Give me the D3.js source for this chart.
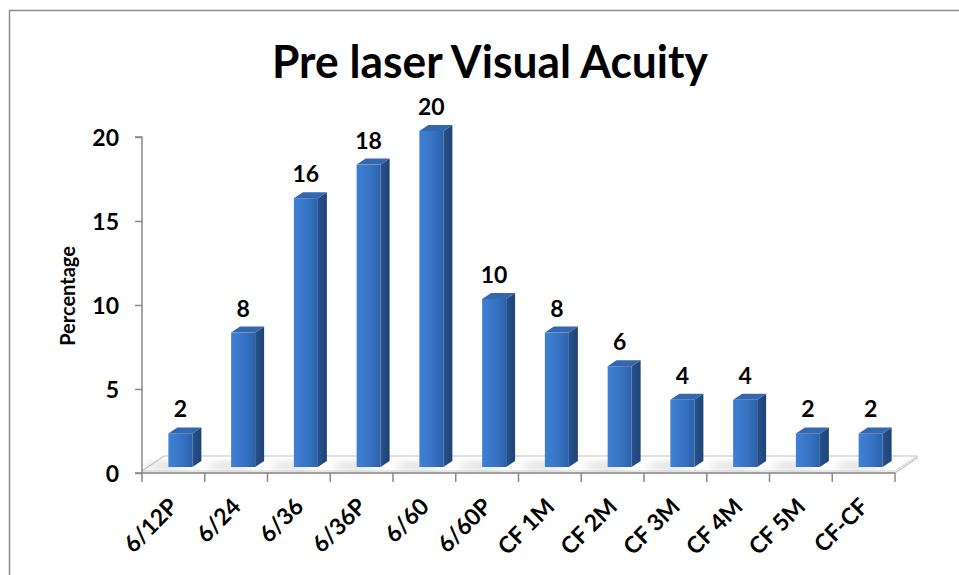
<!DOCTYPE html>
<html>
<head>
<meta charset="utf-8">
<script src="https://cdn.jsdelivr.net/npm/d3@7"></script>
<style>
  html, body { margin: 0; padding: 0; background: #fff; }
  svg { display: block; font-family: Lato, "Open Sans", sans-serif; }
</style>
</head>
<body>
<svg id="chart" width="959" height="575"></svg>
<script>
// Visual acuity categories and percentage of eyes before laser treatment
const categories = ["6/12P", "6/24", "6/36", "6/36P", "6/60", "6/60P",
                    "CF 1M", "CF 2M", "CF 3M", "CF 4M", "CF 5M", "CF-CF"];
const percentages = [2, 8, 16, 18, 20, 10, 8, 6, 4, 4, 2, 2];
const yTicks = [0, 5, 10, 15, 20];
const titleText = "Pre laser Visual Acuity";
const yTitle = "Percentage";

const svg = d3.select("#chart");
const W = 959, H = 575;

// Plot area (front plane of the 3-D floor)
const plotL = 142, plotR = 895, plotB = 473, plotT = 137;
// Floor depth offset and bar depth geometry
const floorDx = 22, floorDy = -15;
const barShiftX = 7, barShiftY = -6;   // bars sit in the middle of the floor depth
const barDx = 9, barDy = -6;           // bar's own depth
const barW = 24;
const labelSize = 23;

const x = d3.scaleBand().domain(categories).range([plotL, plotR]).paddingInner(0).paddingOuter(0);
const y = d3.scaleLinear().domain([0, 20]).range([plotB, plotT]);

// Outer chart frame
svg.append("rect")
  .attr("x", 9.5).attr("y", 10.5)
  .attr("width", W).attr("height", H)
  .attr("fill", "none").attr("stroke", "#8c8c8c").attr("stroke-width", 1.5);

const defs = svg.append("defs");
const gFront = defs.append("linearGradient").attr("id", "front").attr("x1", 0).attr("x2", 1).attr("y1", 0).attr("y2", 0);
gFront.append("stop").attr("offset", 0).attr("stop-color", "#3f80d4");
gFront.append("stop").attr("offset", 0.6).attr("stop-color", "#3672c2");
gFront.append("stop").attr("offset", 1).attr("stop-color", "#2d61a9");
const gSide = defs.append("linearGradient").attr("id", "side").attr("x1", 0).attr("x2", 1).attr("y1", 0).attr("y2", 0);
gSide.append("stop").attr("offset", 0).attr("stop-color", "#27518d");
gSide.append("stop").attr("offset", 1).attr("stop-color", "#1f4374");
const shadowBlur = defs.append("filter").attr("id", "soft").attr("x", "-50%").attr("y", "-50%").attr("width", "200%").attr("height", "200%");
shadowBlur.append("feGaussianBlur").attr("stdDeviation", 4);

// Floor: top surface plus thin front edge
svg.append("polygon")
  .attr("points", [[plotL, plotB], [plotR, plotB], [plotR + floorDx, plotB + floorDy], [plotR + floorDx, plotB + floorDy - 2], [plotL + floorDx, plotB + floorDy - 2], [plotL, plotB - 2]].map(p => p.join(",")).join(" "))
  .attr("fill", "#ffffff").attr("stroke", "#c4c4c4").attr("stroke-width", 1.2).attr("stroke-linejoin", "round");
svg.append("line")
  .attr("x1", plotL).attr("y1", plotB - 2).attr("x2", plotR).attr("y2", plotB - 2)
  .attr("stroke", "#d0d0d0").attr("stroke-width", 1);
svg.append("line")
  .attr("x1", plotR).attr("y1", plotB - 2).attr("x2", plotR + floorDx).attr("y2", plotB + floorDy - 2)
  .attr("stroke", "#d0d0d0").attr("stroke-width", 1);

// Soft shadows cast on the floor beside each bar
svg.append("g").selectAll("ellipse")
  .data(percentages)
  .join("ellipse")
  .attr("cx", (d, i) => x(categories[i]) + x.bandwidth() / 2 + barShiftX - 14)
  .attr("cy", plotB + barShiftY - 1)
  .attr("rx", 22).attr("ry", 3.5)
  .attr("fill", "#b8b8b8").attr("opacity", 0.55)
  .attr("filter", "url(#soft)");

// 3-D bars
const bars = svg.append("g").selectAll("g")
  .data(percentages.map((v, i) => ({ cat: categories[i], v })))
  .join("g");
const bx = d => x(d.cat) + (x.bandwidth() - barW) / 2 + barShiftX;
const by0 = plotB + barShiftY;
const by = d => y(d.v) + barShiftY;

bars.append("polygon") // side face
  .attr("points", d => [[bx(d) + barW, by(d)], [bx(d) + barW + barDx, by(d) + barDy], [bx(d) + barW + barDx, by0 + barDy], [bx(d) + barW, by0]].map(p => p.join(",")).join(" "))
  .attr("fill", "url(#side)");
bars.append("polygon") // top face
  .attr("points", d => [[bx(d), by(d)], [bx(d) + barDx, by(d) + barDy], [bx(d) + barW + barDx, by(d) + barDy], [bx(d) + barW, by(d)]].map(p => p.join(",")).join(" "))
  .attr("fill", "#3467ad");
bars.append("rect") // front face
  .attr("x", bx).attr("y", by)
  .attr("width", barW).attr("height", d => by0 - by(d))
  .attr("fill", "url(#front)");

// Value labels
bars.append("text")
  .attr("x", d => bx(d) + barW / 2)
  .attr("y", d => by(d) - 16)
  .attr("text-anchor", "middle")
  .attr("font-size", labelSize).attr("font-weight", 700).attr("fill", "#000")
  .text(d => d.v);

// Y axis
const yAxis = svg.append("g")
  .attr("transform", `translate(${plotL},0)`)
  .call(d3.axisLeft(y).tickValues(yTicks).tickSize(7).tickPadding(16).tickFormat(d3.format("d")));
yAxis.select(".domain").attr("stroke", "#8a8a8a").attr("stroke-width", 1.5).attr("d", `M-7,${plotT}H0V${plotB}H-7`);
yAxis.selectAll(".tick line").attr("stroke", "#8a8a8a").attr("stroke-width", 1.5);
yAxis.selectAll(".tick text")
  .attr("font-family", "Lato, sans-serif").attr("font-size", labelSize).attr("font-weight", 700).attr("fill", "#000")
  .attr("dy", "0.36em");

// X axis: boundary ticks below the floor front edge
const xg = svg.append("g");
xg.append("line")
  .attr("x1", plotL).attr("x2", plotR).attr("y1", plotB).attr("y2", plotB)
  .attr("stroke", "#8a8a8a").attr("stroke-width", 1.5);
const bounds = categories.map(c => x(c)).concat([plotR]);
xg.selectAll("line.tk")
  .data(bounds)
  .join("line")
  .attr("class", "tk")
  .attr("x1", d => d).attr("x2", d => d)
  .attr("y1", plotB).attr("y2", plotB + 9)
  .attr("stroke", "#8a8a8a").attr("stroke-width", 1.5);
xg.selectAll("text")
  .data(categories)
  .join("text")
  .attr("transform", d => `translate(${x(d) + x.bandwidth() / 2 + 6},${plotB + 35}) rotate(-45)`)
  .attr("text-anchor", "end")
  .attr("font-size", labelSize).attr("font-weight", 700).attr("fill", "#000")
  .text(d => d);

// Axis title
svg.append("text")
  .attr("transform", `translate(75,296) rotate(-90)`)
  .attr("text-anchor", "middle")
  .attr("font-size", 20).attr("font-weight", 700).attr("fill", "#000")
  .text(yTitle);

// Chart title
svg.append("text")
  .attr("x", 490).attr("y", 78)
  .attr("text-anchor", "middle")
  .attr("font-size", 46).attr("font-weight", 700).attr("fill", "#000")
  .attr("textLength", 436).attr("lengthAdjust", "spacingAndGlyphs")
  .text(titleText);
</script>
</body>
</html>
